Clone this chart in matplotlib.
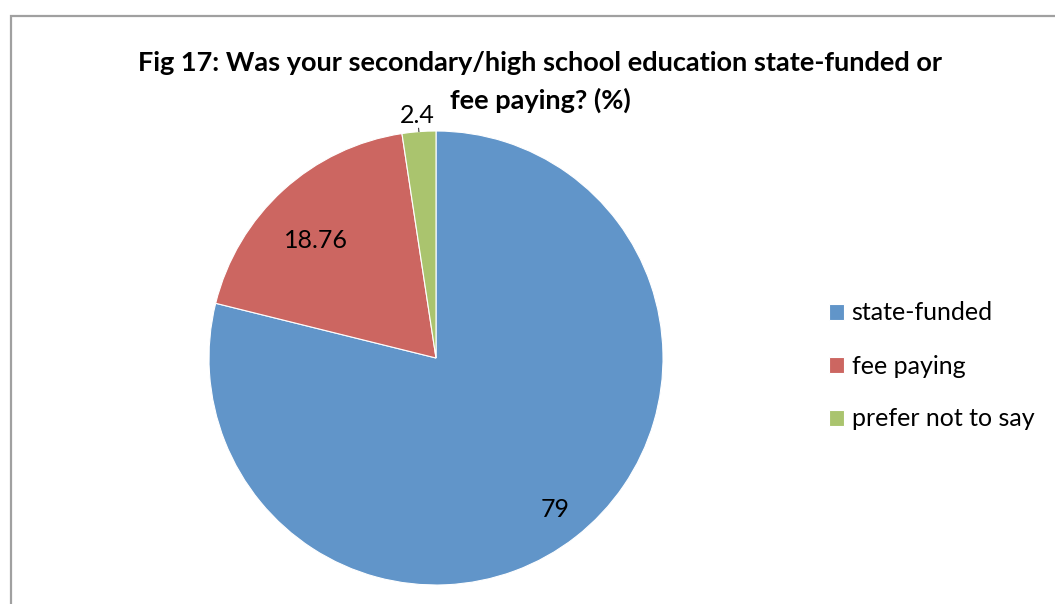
import matplotlib
matplotlib.use("Agg")
import matplotlib.pyplot as plt
import numpy as np
from matplotlib.patches import Rectangle

categories = ["state-funded", "fee paying", "prefer not to say"]
values = [79, 18.76, 2.4]
value_labels = ["79", "18.76", "2.4"]
colors = ["#6195C9", "#CC6661", "#AAC46E"]

W, H = 1055, 604
plt.rcParams["font.family"] = ["Lato", "DejaVu Sans"]

fig = plt.figure(figsize=(W / 100, H / 100), dpi=100)

# chart border (gray frame, running off the right and bottom edges)
fig.patches.append(Rectangle((11 / W, -0.05), 1.1, (H - 16) / H + 0.05,
                             transform=fig.transFigure, fill=False,
                             edgecolor="#a0a0a0", linewidth=1.6))

fig.text(540 / W, 1 - 63 / H,
         "Fig 17: Was your secondary/high school education state-funded or",
         ha="center", va="center", fontsize=19.5, fontweight="bold")
fig.text(540 / W, 1 - 100 / H, "fee paying? (%)",
         ha="center", va="center", fontsize=19.5, fontweight="bold")

cx, cy, r = 436, 358, 227
ax = fig.add_axes([(cx - r) / W, (H - cy - r) / H, 2 * r / W, 2 * r / H])
wedges, _ = ax.pie(values, colors=colors, startangle=90, counterclock=False,
                   radius=1, wedgeprops=dict(linewidth=0.8, edgecolor="white"))
ax.set_xlim(-1, 1)
ax.set_ylim(-1, 1)
ax.set_aspect("equal")
ax.axis("off")

dists = [0.85, 0.74, 1.07]
angle_shift = [0, 3.5, 0]
for w, lab, d, s in zip(wedges, value_labels, dists, angle_shift):
    ang = np.deg2rad((w.theta1 + w.theta2) / 2 + s)
    ax.text(d * np.cos(ang), d * np.sin(ang), lab, ha="center", va="center",
            fontsize=18, clip_on=False)

# tiny leader line for the outside label
g = wedges[2]
ang = np.deg2rad((g.theta1 + g.theta2) / 2)
ax.plot([1.0 * np.cos(ang), 1.015 * np.cos(ang)],
        [1.0 * np.sin(ang), 1.015 * np.sin(ang)], color="black", lw=0.6,
        clip_on=False)

leg = fig.legend(wedges, categories, loc="center left",
                 bbox_to_anchor=(806 / W, 1 - 366 / H), frameon=False,
                 fontsize=18, handlelength=0.62, handleheight=0.62,
                 handletextpad=0.3, labelspacing=1.2)

fig.savefig("out.png", dpi=100)
